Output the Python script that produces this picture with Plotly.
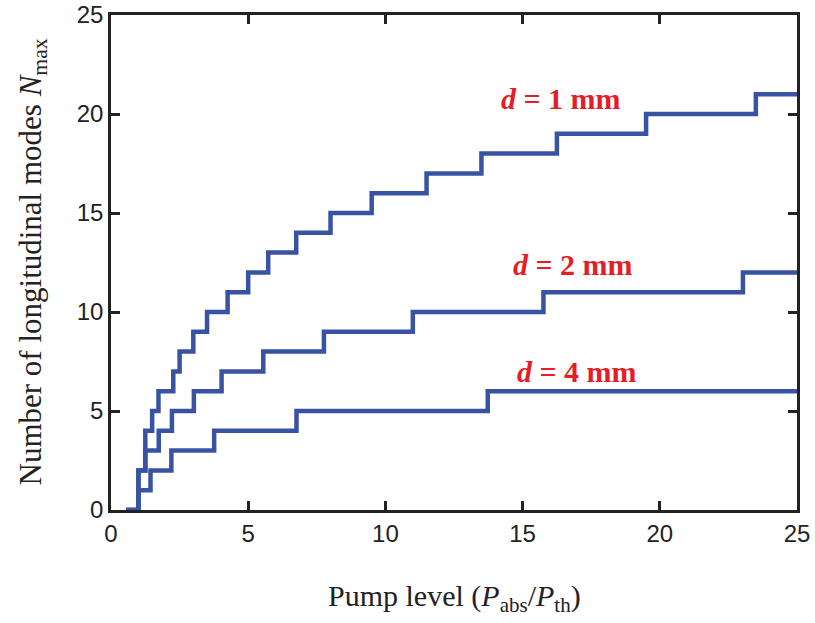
import plotly.graph_objects as go

# Step data (pump level, N_max)
x_d1 = [0.55, 1.0, 1.25, 1.5, 1.73, 2.27, 2.5, 3.0, 3.5, 4.25, 5.0, 5.73, 6.75, 8.0, 9.5, 11.5, 13.5, 16.25, 19.5, 23.5, 25]
y_d1 = [0, 2, 4, 5, 6, 7, 8, 9, 10, 11, 12, 13, 14, 15, 16, 17, 18, 19, 20, 21, 21]

x_d2 = [0.55, 1.0, 1.25, 1.74, 2.22, 3.02, 4.03, 5.55, 7.76, 11.0, 15.76, 23.03, 25]
y_d2 = [0, 2, 3, 4, 5, 6, 7, 8, 9, 10, 11, 12, 12]

x_d4 = [0.55, 1.0, 1.44, 2.2, 3.76, 6.76, 13.73, 25]
y_d4 = [0, 1, 2, 3, 4, 5, 6, 6]

labels = ["1", "2", "4"]
label_x = [16.4, 16.85, 17.0]
label_y = [20.8, 12.4, 7.0]

tick_vals = [0, 5, 10, 15, 20, 25]

BLUE = "#3953a4"
RED = "#e41e26"
DARK = "#222222"

fig = go.Figure()
for xs, ys in [(x_d1, y_d1), (x_d2, y_d2), (x_d4, y_d4)]:
    fig.add_trace(go.Scatter(x=xs, y=ys, mode="lines", line_shape="hv",
                             line=dict(color=BLUE, width=4.5), showlegend=False,
                             hoverinfo="skip", cliponaxis=False))

for lab, lx, ly in zip(labels, label_x, label_y):
    fig.add_annotation(x=lx, y=ly, xref="x", yref="y", showarrow=False,
                       text=f"<i>d</i> = {lab} mm",
                       font=dict(family="Liberation Serif", size=30, color=RED, weight="bold"))

axis_common = dict(
    showline=True, linecolor=DARK, linewidth=2.5, mirror="ticks",
    ticks="inside", ticklen=9, tickwidth=2.5, tickcolor=DARK,
    showgrid=False, zeroline=False, automargin=False,
    tickvals=tick_vals, ticklabeloverflow="allow",
    tickfont=dict(family="Liberation Sans", size=24, color=DARK),
)

fig.update_xaxes(range=[0, 25], **axis_common)
fig.update_yaxes(range=[0, 25], **axis_common)

# Axis titles
fig.add_annotation(x=0.5, y=0, xref="paper", yref="paper", yshift=-88,
                   showarrow=False, xanchor="center", yanchor="middle",
                   text="Pump level (<i>P</i><sub>abs</sub>/<i>P</i><sub>th</sub>)",
                   font=dict(family="Liberation Serif", size=30, color=DARK))
fig.add_annotation(x=0, y=0.5, xref="paper", yref="paper", xshift=-79,
                   showarrow=False, xanchor="center", yanchor="middle", textangle=-90,
                   text="Number of longitudinal modes <i>N</i><sub>max</sub>",
                   font=dict(family="Liberation Serif", size=31, color=DARK))

fig.update_layout(
    width=815, height=623,
    margin=dict(l=111, r=18, t=15, b=113, autoexpand=False),
    paper_bgcolor="white", plot_bgcolor="white",
)

fig.write_html("out.html", config={"displayModeBar": False},
               post_script="document.body.style.margin='0px';document.body.style.overflow='hidden';")
